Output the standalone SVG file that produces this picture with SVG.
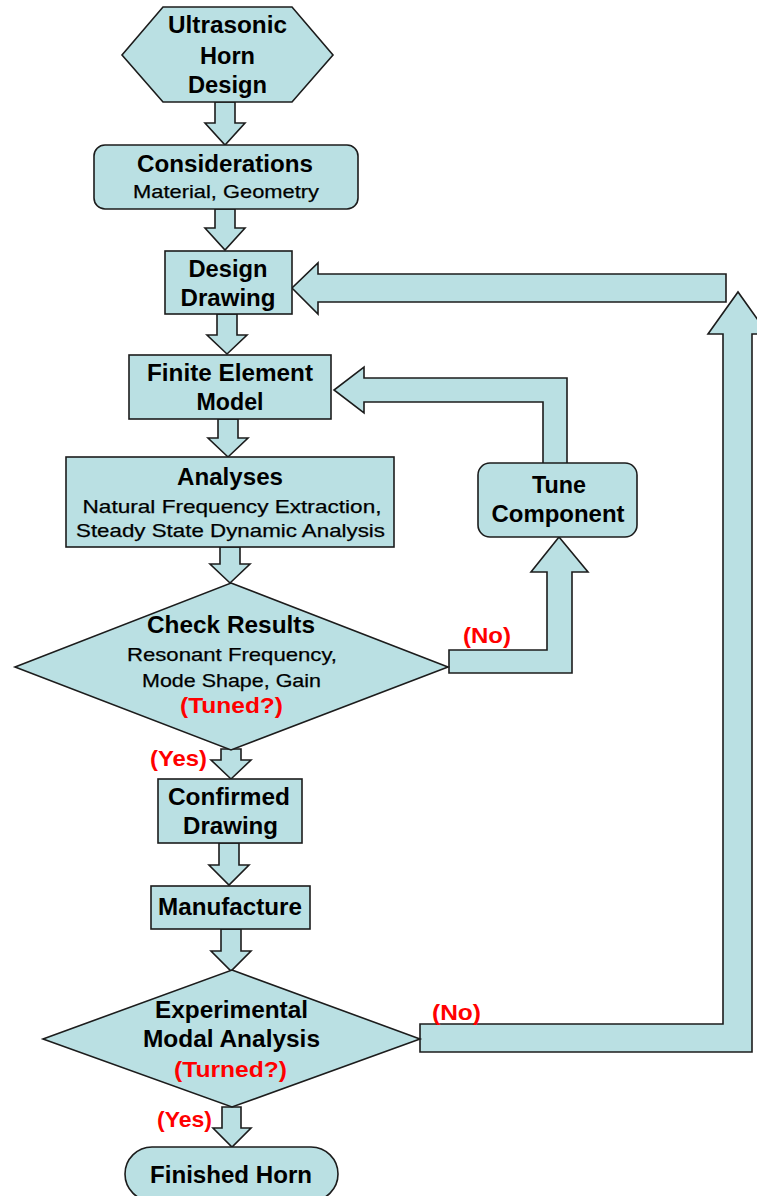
<svg xmlns="http://www.w3.org/2000/svg" width="757" height="1196" viewBox="0 0 757 1196">
<style>
.n{fill:#BAE0E3;stroke:#1c1c1c;stroke-width:1.6;stroke-linejoin:miter}
.c{fill:#BAE0E3;stroke:#1c1c1c;stroke-width:1.6;stroke-linejoin:miter}
text{font-family:"Liberation Sans",Arial,sans-serif;text-anchor:middle;fill:#000}
.t{font-size:23px;font-weight:bold}
.s{font-size:19px;font-weight:normal;stroke:#000;stroke-width:0.25}
.r{font-size:22px;font-weight:bold;fill:#FF0000}
</style>
<rect width="757" height="1196" fill="#FFFFFF"/>
<g id="connectors">
<path class="c" d="M215,102 H235 V123 H245 L225,145 L205,123 H215 Z"/>
<path class="c" d="M215,209 H235 V228 H245 L225,250 L205,228 H215 Z"/>
<path class="c" d="M217,314 H237 V335 H247 L227,354 L207,335 H217 Z"/>
<path class="c" d="M218,419 H238 V438 H248 L228,457 L208,438 H218 Z"/>
<path class="c" d="M220,547 H240 V564 H250 L230,583 L210,564 H220 Z"/>
<path class="c" d="M221,749 H241 V760 H251 L231,779 L211,760 H221 Z"/>
<path class="c" d="M219,843 H239 V865 H249 L229,885 L209,865 H219 Z"/>
<path class="c" d="M221,929 H241 V951 H251 L231,971 L211,951 H221 Z"/>
<path class="c" d="M222,1107 H241 V1128 H251 L232,1147 L213,1128 H222 Z"/>
<path class="c" d="M449,650 H547 V572 H531 L559,537 L588,572 H572 V673 H449 Z"/>
<path class="c" d="M543,463 V402 H364 V413 L334,390 L364,367 V378 H567 V463"/>
<path class="c" d="M726,274 H318 V263 L292,288 L318,314 V302 H726 Z"/>
<path class="c" d="M420,1024 H723 V334 H708 L738,292 L768,334 H752 V1052 H420 Z"/>
</g>
<g id="start">
<polygon class="n" points="163,7 292,7 333,55 292,102 163,102 122,55"/>
<text class="t" x="227.5" y="33" textLength="119" lengthAdjust="spacingAndGlyphs">Ultrasonic</text>
<text class="t" x="227.5" y="64" textLength="55" lengthAdjust="spacingAndGlyphs">Horn</text>
<text class="t" x="227.5" y="93" textLength="79" lengthAdjust="spacingAndGlyphs">Design</text>
</g>
<g id="considerations">
<rect class="n" x="94" y="145" width="264" height="64" rx="11"/>
<text class="t" x="225" y="172" textLength="176" lengthAdjust="spacingAndGlyphs">Considerations</text>
<text class="s" x="226" y="198" textLength="186" lengthAdjust="spacingAndGlyphs">Material, Geometry</text>
</g>
<g id="design-drawing">
<rect class="n" x="165" y="251" width="127" height="63"/>
<text class="t" x="228" y="277" textLength="79" lengthAdjust="spacingAndGlyphs">Design</text>
<text class="t" x="228" y="306" textLength="95" lengthAdjust="spacingAndGlyphs">Drawing</text>
</g>
<g id="fem">
<rect class="n" x="129" y="355" width="202" height="64"/>
<text class="t" x="230" y="381" textLength="166" lengthAdjust="spacingAndGlyphs">Finite Element</text>
<text class="t" x="230" y="410" textLength="67" lengthAdjust="spacingAndGlyphs">Model</text>
</g>
<g id="analyses">
<rect class="n" x="66" y="457" width="328" height="90"/>
<text class="t" x="230" y="485" textLength="106" lengthAdjust="spacingAndGlyphs">Analyses</text>
<text class="s" x="232" y="513" textLength="299" lengthAdjust="spacingAndGlyphs">Natural Frequency Extraction,</text>
<text class="s" x="230.5" y="537" textLength="309" lengthAdjust="spacingAndGlyphs">Steady State Dynamic Analysis</text>
</g>
<g id="check-results">
<polygon class="n" points="231,583 448,667 231,750 15,667"/>
<text class="t" x="231" y="633" textLength="168" lengthAdjust="spacingAndGlyphs">Check Results</text>
<text class="s" x="232" y="661" textLength="210" lengthAdjust="spacingAndGlyphs">Resonant Frequency,</text>
<text class="s" x="231.5" y="687" textLength="179" lengthAdjust="spacingAndGlyphs">Mode Shape, Gain</text>
<text class="r" x="231.5" y="713" textLength="103" lengthAdjust="spacingAndGlyphs">(Tuned?)</text>
</g>
<g id="tune-component">
<rect class="n" x="478" y="463" width="159" height="74" rx="12"/>
<text class="t" x="559" y="493" textLength="54" lengthAdjust="spacingAndGlyphs">Tune</text>
<text class="t" x="558" y="522" textLength="133" lengthAdjust="spacingAndGlyphs">Component</text>
</g>
<g id="confirmed-drawing">
<rect class="n" x="158" y="779" width="144" height="64"/>
<text class="t" x="229" y="805" textLength="122" lengthAdjust="spacingAndGlyphs">Confirmed</text>
<text class="t" x="230.5" y="834" textLength="95" lengthAdjust="spacingAndGlyphs">Drawing</text>
</g>
<g id="manufacture">
<rect class="n" x="151" y="886" width="159" height="43"/>
<text class="t" x="230" y="915" textLength="144" lengthAdjust="spacingAndGlyphs">Manufacture</text>
</g>
<g id="experimental">
<polygon class="n" points="232,970 420,1039 232,1107 43,1039"/>
<text class="t" x="231.5" y="1018" textLength="153" lengthAdjust="spacingAndGlyphs">Experimental</text>
<text class="t" x="231.5" y="1047" textLength="177" lengthAdjust="spacingAndGlyphs">Modal Analysis</text>
<text class="r" x="230.5" y="1077" textLength="113" lengthAdjust="spacingAndGlyphs">(Turned?)</text>
</g>
<g id="finished-horn">
<rect class="n" x="125" y="1147" width="213" height="54" rx="27"/>
<text class="t" x="231" y="1183" textLength="162" lengthAdjust="spacingAndGlyphs">Finished Horn</text>
</g>
<g id="labels">
<text class="r" x="487" y="643" textLength="48" lengthAdjust="spacingAndGlyphs">(No)</text>
<text class="r" x="178.5" y="766" textLength="57" lengthAdjust="spacingAndGlyphs">(Yes)</text>
<text class="r" x="456.5" y="1020" textLength="49" lengthAdjust="spacingAndGlyphs">(No)</text>
<text class="r" x="184.5" y="1127" textLength="55" lengthAdjust="spacingAndGlyphs">(Yes)</text>
</g>
</svg>
